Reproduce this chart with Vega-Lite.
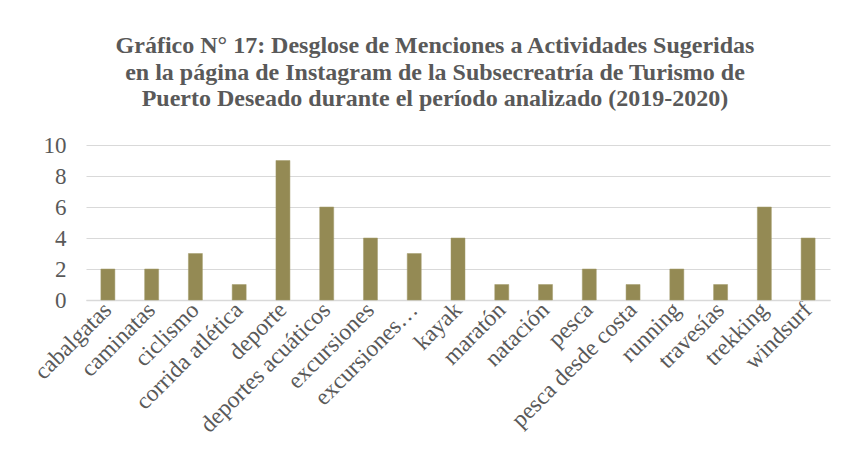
{
  "$schema": "https://vega.github.io/schema/vega-lite/v6.json",
  "autosize": {"type": "none"},
  "width": 744,
  "height": 155,
  "padding": {"left": 86, "top": 145, "right": 18, "bottom": 168},
  "background": "white",
  "title": {
    "text": ["Gráfico N° 17: Desglose de Menciones a Actividades Sugeridas", "en la página de Instagram de la Subsecreatría de Turismo de", "Puerto Deseado durante el período analizado (2019-2020)"],
    "font": "Liberation Serif",
    "fontSize": 24,
    "fontWeight": "bold",
    "color": "#595959",
    "lineHeight": 26.5,
    "anchor": "middle",
    "dx": -23,
    "offset": 23
  },
  "data": {
    "values": [
      {"actividad": "cabalgatas", "menciones": 2},
      {"actividad": "caminatas", "menciones": 2},
      {"actividad": "ciclismo", "menciones": 3},
      {"actividad": "corrida atlética", "menciones": 1},
      {"actividad": "deporte", "menciones": 9},
      {"actividad": "deportes acuáticos", "menciones": 6},
      {"actividad": "excursiones", "menciones": 4},
      {"actividad": "excursiones…", "menciones": 3},
      {"actividad": "kayak", "menciones": 4},
      {"actividad": "maratón", "menciones": 1},
      {"actividad": "natación", "menciones": 1},
      {"actividad": "pesca", "menciones": 2},
      {"actividad": "pesca desde costa", "menciones": 1},
      {"actividad": "running", "menciones": 2},
      {"actividad": "travesías", "menciones": 1},
      {"actividad": "trekking", "menciones": 6},
      {"actividad": "windsurf", "menciones": 4}
    ]
  },
  "mark": {"type": "bar", "color": "#948A54", "stroke": "#A39A6A", "strokeWidth": 0.5},
  "encoding": {
    "x": {
      "field": "actividad",
      "type": "nominal",
      "sort": null,
      "scale": {"paddingInner": 0.68, "paddingOuter": 0.34},
      "axis": {
        "title": null,
        "labelAngle": -45,
        "labelAlign": "right",
        "labelBaseline": "middle",
        "labelFont": "Liberation Serif",
        "labelFontSize": 23.5,
        "labelColor": "#595959",
        "labelPadding": 6,
        "labelLimit": 300,
        "ticks": false,
        "domainColor": "#D9D9D9",
        "domainWidth": 1.5
      }
    },
    "y": {
      "field": "menciones",
      "type": "quantitative",
      "scale": {"domain": [0, 10]},
      "axis": {
        "title": null,
        "values": [0, 2, 4, 6, 8, 10],
        "labelFont": "Liberation Serif",
        "labelFontSize": 23,
        "labelColor": "#595959",
        "labelPadding": 20,
        "ticks": false,
        "domain": false,
        "gridColor": "#D9D9D9",
        "gridWidth": 1.2
      }
    }
  },
  "config": {"view": {"stroke": null}}
}
